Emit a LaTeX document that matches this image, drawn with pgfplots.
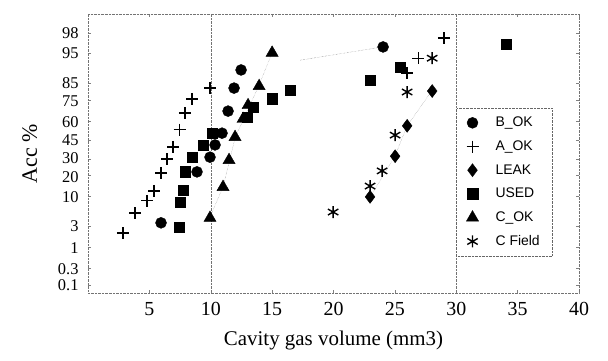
\documentclass[border=0pt]{standalone}
\usepackage{pgfplots}
\pgfplotsset{compat=1.18}
\usepackage{fontspec}
\setmainfont{Liberation Serif}
\newfontfamily\legfont{Liberation Sans}
\begin{document}
\begin{tikzpicture}
\begin{axis}[
  scale only axis, width=491bp, height=279bp,
  xmin=0, xmax=40, ymin=-3.252, ymax=2.442,
  xtick={5,10,...,40},
  ytick={-3.090,-2.748,-2.326,-1.881,-1.282,-0.842,-0.524,-0.126,0.253,0.674,1.036,1.645,2.054},
  yticklabels={0.1,0.3,1,3,10,{\raisebox{-1.5bp}{20}},{\raisebox{1.8bp}{30}},45,60,{\raisebox{-0.6bp}{75}},{\raisebox{0.6bp}{85}},95,98},
  /pgf/number format/assume math mode=true,
  axis line style={black!55, densely dotted},
  tick style={black!50, thin},
  major tick length=3bp,
  tick align=inside,
  xticklabel style={font=\fontsize{20}{20}\selectfont, yshift=-6bp},
  yticklabel style={font=\fontsize{16.5}{14}\selectfont, inner ysep=0pt, text height=11.5bp, text depth=0pt, xshift=-6bp},
  xlabel={Cavity gas volume (mm3)},
  ylabel={Acc \%},
  xlabel style={font=\fontsize{21}{21}\selectfont, yshift=-8bp},
  ylabel style={font=\fontsize{22}{22}\selectfont, yshift=14bp},
  legend style={at={(0.75,0.663)}, anchor=north west, draw=black!60, densely dotted,
    font=\legfont\fontsize{14}{14}\selectfont, row sep=8.5bp, column sep=15bp,
    inner xsep=10bp, inner ysep=7bp,
    cells={anchor=west, solid}},
  legend cell align=left,
  every axis plot/.append style={solid},
]
% faint grid / fit lines
\addplot[forget plot, black!55, densely dotted, thin] coordinates {(10,-3.252) (10,2.442)};
\addplot[forget plot, black!55, densely dotted, thin] coordinates {(30,-3.252) (30,2.442)};
\addplot[forget plot, black!55, densely dotted, thin] coordinates {(17.3,1.50) (24.0,1.77)};
\addplot[forget plot, black!45, densely dotted, thin] coordinates {(23.0,-1.29) (25.0,-0.46) (26.0,0.16) (28.0,0.87)};
\addplot[forget plot, black!45, densely dotted, thin] coordinates {(9.9,-1.72) (11.0,-1.09) (12.0,-0.07) (13.9,0.97) (15.0,1.65)};

\addplot[only marks, mark=*, mark size=5.5bp, black] coordinates {
(5.95,-1.82) (8.88,-0.78) (9.94,-0.48) (10.35,-0.23) (10.92,0.01) (11.41,0.46) (11.90,0.93) (12.47,1.30) (24.04,1.77)};
\addlegendentry{B\_OK}
\addplot[only marks, mark=+, mark size=6bp, line width=1.4pt, black] coordinates {
(2.85,-2.03) (3.83,-1.62) (4.81,-1.37) (5.38,-1.17) (5.95,-0.80) (6.44,-0.52) (6.93,-0.27) (7.46,0.08) (7.90,0.42) (8.48,0.71) (9.94,0.93) (26.0,1.24) (26.9,1.54) (29.0,1.95)};
\addlegendentry{A\_OK}
\addplot[only marks, mark=diamond*, mark size=6.5bp, black] coordinates {
(22.98,-1.29) (25.02,-0.46) (26.0,0.16) (28.04,0.87)};
\addlegendentry{LEAK}
\addplot[only marks, mark=square*, mark size=5.2bp, black] coordinates {
(7.42,-1.91) (7.50,-1.40) (7.74,-1.15) (7.90,-0.78) (8.48,-0.48) (9.37,-0.23) (10.1,0.01) (12.96,0.34) (13.45,0.54) (15.0,0.71) (16.46,0.89) (22.98,1.09) (25.43,1.36) (34.07,1.83)};
\addlegendentry{USED}
\addplot[only marks, mark=triangle*, mark size=7bp, black] coordinates {
(9.94,-1.72) (11.0,-1.09) (11.49,-0.54) (11.98,-0.07) (12.63,0.30) (13.04,0.58) (13.94,0.97) (15.0,1.65)};
\addlegendentry{C\_OK}
\addplot[only marks, mark=asterisk, mark size=6bp, line width=1.4pt, black] coordinates {
(19.97,-1.60) (22.98,-1.07) (23.96,-0.76) (25.02,-0.03) (26.0,0.85) (28.04,1.54)};
\addlegendentry{C Field}
\end{axis}
\path (current axis.south west) ++(-88bp,-68bp) coordinate (bbA);
\path (current axis.north east) ++(29bp,14bp) coordinate (bbB);
\path (bbA) rectangle (bbB);
\end{tikzpicture}
\end{document}
